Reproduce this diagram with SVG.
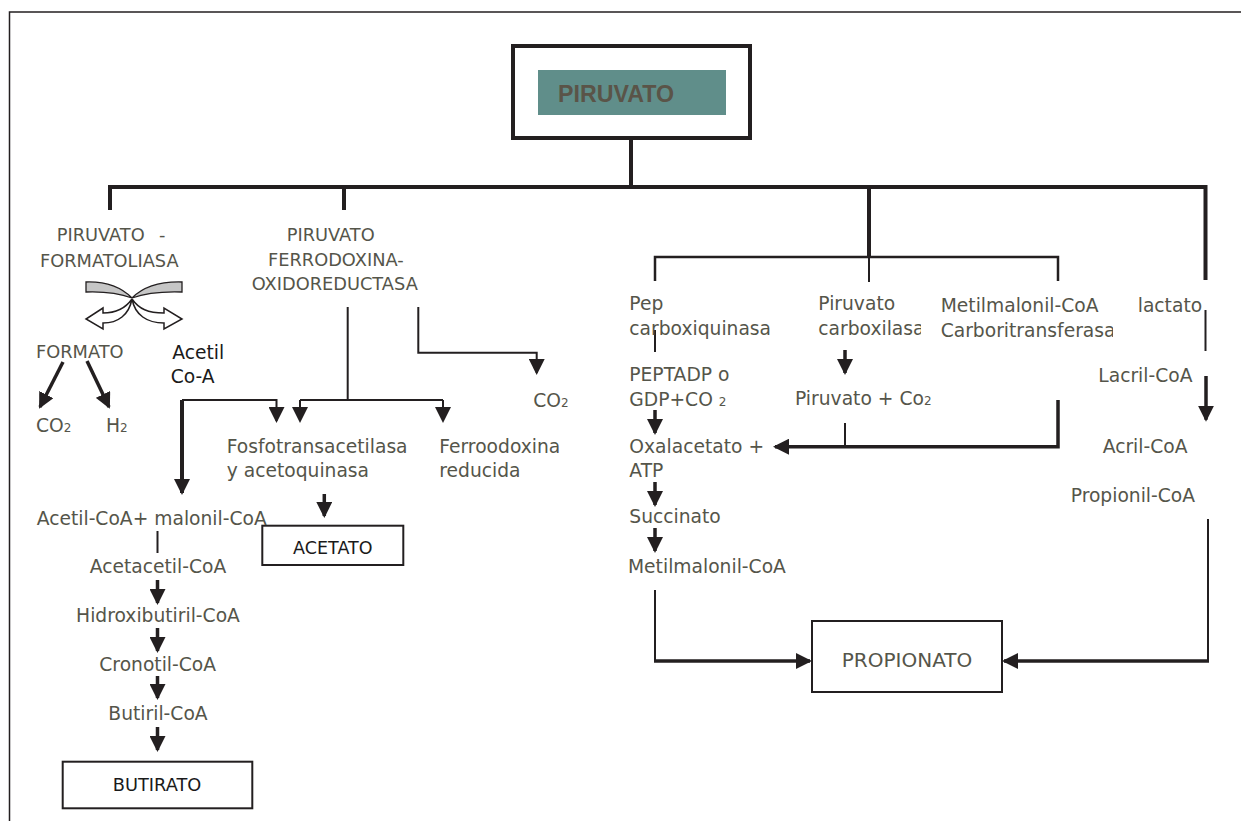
<svg xmlns="http://www.w3.org/2000/svg" width="1241" height="821" viewBox="0 0 1241 821">
<style>
.t{font-family:'DejaVu Sans',Verdana,sans-serif;font-size:18.7px;fill:#55554a}
.u{font-size:17.8px}
.k{fill:#1a1a1a}
.m{text-anchor:middle}
.sub{font-size:12px}
.ln{fill:none;stroke:#231f20;stroke-width:2}
.th{fill:none;stroke:#231f20;stroke-width:3.5}
.tk{fill:none;stroke:#231f20;stroke-width:4}
.ar{marker-end:url(#ah)}
.box{fill:#fff;stroke:#231f20;stroke-width:2}
</style>
<defs>
<marker id="ah" viewBox="0 0 16 16" markerUnits="userSpaceOnUse" markerWidth="16" markerHeight="16" refX="14" refY="8" orient="auto">
<path d="M0,0 L16,8 L0,16 Z" fill="#231f20"/>
</marker>
<clipPath id="c1"><rect x="800" y="280" width="121" height="70"/></clipPath>
<clipPath id="c2"><rect x="930" y="280" width="183" height="70"/></clipPath>
</defs>
<rect width="1241" height="821" fill="#fff"/>
<path d="M9.5,821 V12 H1241" fill="none" stroke="#231f20" stroke-width="1.5"/>

<g id="connectors">
<path class="tk" d="M631,138 V187"/>
<path class="tk" d="M110,210 V187 H1205.5 V280"/>
<path class="tk" d="M344,187 V210"/>
<path class="tk" d="M869,187 V257"/>
<path class="ln" d="M869,257 V282"/>
<path class="ln" d="M655,281 V257 H1058 V281" style="stroke-width:2.5"/>
<path class="ln" d="M347.7,307 V400 H300"/>
<path class="ln ar" d="M300,400 V421"/>
<path class="ln" d="M347.7,400 H443"/>
<path class="ln ar" d="M443,400 V421"/>
<path class="ln ar" d="M182,400 H276.5 V421"/>
<path class="tk ar" d="M182,400 V493"/>
<path class="ln ar" d="M418.3,307 V352.7 H536.7 V373"/>
<path class="th ar" d="M63,362 L40,407"/>
<path class="th ar" d="M87,361 L109,407"/>
<path class="th ar" d="M324.3,494 V516"/>
<path class="ln" d="M157.5,531 V553"/>
<path class="th ar" d="M157.5,580 V603"/>
<path class="th ar" d="M157.5,628 V651"/>
<path class="th ar" d="M157.5,676 V698"/>
<path class="th ar" d="M157.5,727 V750"/>
<path class="ln" d="M655,330 V352"/>
<path class="th ar" d="M655,410 V433"/>
<path class="th ar" d="M655,482 V505"/>
<path class="th ar" d="M655,528 V551"/>
<path class="ln" d="M655,590 V661"/>
<path class="th ar" d="M654,661 H810"/>
<path class="th ar" d="M845,350 V373"/>
<path class="ln" d="M845,423 V446"/>
<path class="th ar" d="M1058,400 V446.7 H775"/>
<path class="ln" d="M1205.5,310 V351"/>
<path class="th ar" d="M1206,376 V419.7"/>
<path class="ln" d="M1208,519 V661"/>
<path class="th ar" d="M1209,661 H1004"/>
</g>

<g id="piruvato">
<rect x="513" y="46" width="237" height="92" fill="#fff" stroke="#231f20" stroke-width="4"/>
<rect x="538" y="70" width="188" height="45" fill="#608e8a"/>
<text x="558" y="102" font-family="'Liberation Sans',Arial,sans-serif" font-weight="bold" font-size="24" fill="#5a5448" textLength="116" lengthAdjust="spacingAndGlyphs">PIRUVATO</text>
</g>

<g id="pfl">
<text class="t u" x="56.7" y="240.7">PIRUVATO<tspan x="159">-</tspan></text>
<text class="t u" x="40" y="266.7">FORMATOLIASA</text>
<path d="M86,282 Q115,281 132,298 Q113,291 86,292 Z" fill="#c6c6c6" stroke="#231f20" stroke-width="1.3"/>
<path d="M182,282 Q149,281 132,298 Q151,291 182,292 Z" fill="#c6c6c6" stroke="#231f20" stroke-width="1.3"/>
<path d="M132,299 C125,309 116,313 103,313 L103,308 L86,319 L103,329 L103,323 C118,323 129,315 132,299 Z" fill="#fff" stroke="#231f20" stroke-width="1.5"/>
<path d="M132,299 C139,309 148,313 164,313 L164,308 L182,319 L164,329 L164,323 C147,323 135,315 132,299 Z" fill="#fff" stroke="#231f20" stroke-width="1.5"/>
</g>

<g id="pfo">
<text class="t u" x="286.7" y="240.7">PIRUVATO</text>
<text class="t u" x="268" y="265.7">FERRODOXINA-</text>
<text class="t u" x="251.7" y="290.3">OXIDOREDUCTASA</text>
</g>

<g id="formato"><text class="t u" x="36" y="358.3">FORMATO</text></g>
<g id="acetil-coa"><text class="t k" x="172.3" y="359">Acetil</text><text class="t k" x="170.7" y="382.7">Co-A</text></g>
<g id="co2-left"><text class="t" x="36" y="431.7">CO<tspan class="sub">2</tspan></text></g>
<g id="h2"><text class="t" x="106" y="431.7">H<tspan class="sub">2</tspan></text></g>

<g id="fosfo"><text class="t" x="226.7" y="453.3">Fosfotransacetilasa</text><text class="t" x="226.7" y="477">y acetoquinasa</text></g>
<g id="ferro"><text class="t" x="439.3" y="453.3">Ferroodoxina</text><text class="t" x="439.3" y="477">reducida</text></g>
<g id="co2-mid"><text class="t" x="533.3" y="406.7">CO<tspan class="sub">2</tspan></text></g>

<g id="acetato">
<rect class="box" x="262.3" y="525.7" width="141" height="39.3"/>
<text class="t k m" x="332.8" y="554" style="font-size:17.5px">ACETATO</text>
</g>

<g id="acetil-malonil"><text class="t" x="36.7" y="525">Acetil-CoA+ malonil-CoA</text></g>
<g id="acetacetil"><text class="t m" x="158" y="573.3">Acetacetil-CoA</text></g>
<g id="hidroxibutiril"><text class="t m" x="158" y="621.7">Hidroxibutiril-CoA</text></g>
<g id="cronotil"><text class="t m" x="157.7" y="670.7">Cronotil-CoA</text></g>
<g id="butiril"><text class="t m" x="158" y="720">Butiril-CoA</text></g>
<g id="butirato">
<rect class="box" x="62.7" y="761.7" width="189.6" height="46.6"/>
<text class="t k m" x="157" y="790.7" style="font-size:17.8px">BUTIRATO</text>
</g>

<g id="pep"><text class="t" x="629.3" y="310">Pep</text><text class="t" x="629.3" y="335">carboxiquinasa</text></g>
<g id="peptadp"><text class="t" x="629.3" y="381">PEPTADP o</text><text class="t" x="629.3" y="406">GDP+CO <tspan class="sub">2</tspan></text></g>
<g id="oxalacetato"><text class="t" x="629.3" y="452.7">Oxalacetato +</text><text class="t" x="629.3" y="476.7">ATP</text></g>
<g id="succinato"><text class="t" x="629.3" y="523.3">Succinato</text></g>
<g id="metilmalonil"><text class="t" x="628" y="573">Metilmalonil-CoA</text></g>

<g id="piruvato-carboxilasa"><text class="t" x="818.3" y="310">Piruvato</text><text class="t" x="818.3" y="335" clip-path="url(#c1)">carboxilasa</text></g>
<g id="piruvato-co2"><text class="t" x="795" y="405">Piruvato + Co<tspan class="sub">2</tspan></text></g>
<g id="mmcoa-ct"><text class="t" x="940.7" y="311.7">Metilmalonil-CoA</text><text class="t" x="940.7" y="336.7" clip-path="url(#c2)">Carboritransferasa</text></g>

<g id="lactato"><text class="t" x="1137.7" y="311.7">lactato</text></g>
<g id="lacril"><text class="t" x="1098.3" y="381.7">Lacril-CoA</text></g>
<g id="acril"><text class="t" x="1102.7" y="452.7">Acril-CoA</text></g>
<g id="propionil"><text class="t" x="1070.7" y="501.7">Propionil-CoA</text></g>

<g id="propionato">
<rect class="box" x="812" y="621" width="190" height="71"/>
<text class="t m" x="907" y="667" style="font-size:20px">PROPIONATO</text>
</g>
</svg>
